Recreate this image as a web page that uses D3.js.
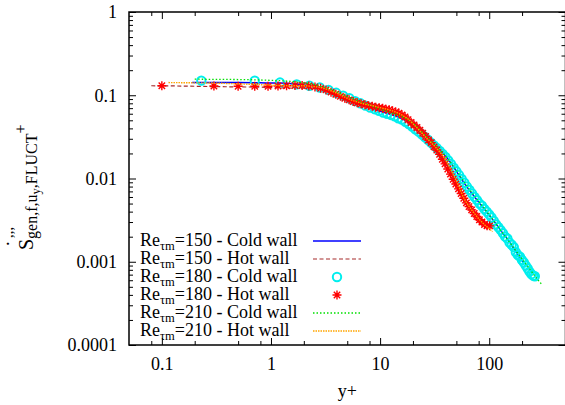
<!DOCTYPE html>
<html>
<head>
<meta charset="utf-8">
<script src="https://cdn.jsdelivr.net/npm/d3@7"></script>
<style>
  body { margin: 0; background: #fff; }
  svg { display: block; }
</style>
</head>
<body>
<svg></svg>
<script>
// ---- data ----
var xMajor = [0.1, 1, 10, 100],
    xMajorLabels = ["0.1", "1", "10", "100"],
    xMinor = [0.08, 0.2, 0.5, 0.8, 2, 5, 8, 20, 50, 80, 200],
    yMajor = [0.0001, 0.001, 0.01, 0.1, 1],
    yMajorLabels = ["0.0001", "0.001", "0.01", "0.1", "1"],
    yMinor = [];
[0.0001, 0.001, 0.01, 0.1].forEach(function(d) {
  [2, 3, 4, 5, 6, 7, 8, 9].forEach(function(m) { yMinor.push(d * m); });
});

var re150ColdX = [0.19, 0.3, 0.5, 0.8, 1.2, 1.6, 2, 2.5, 3, 3.5, 4, 5, 6, 7, 8.5, 10, 12, 14, 17, 20, 25, 30, 35, 40, 50, 60, 75, 90, 110, 130, 155, 180, 205],
    re150ColdY = [0.142, 0.142, 0.142, 0.141, 0.140, 0.137, 0.133, 0.127, 0.120, 0.112, 0.104, 0.091, 0.082, 0.075, 0.069, 0.064, 0.060, 0.056, 0.050, 0.043, 0.034, 0.027, 0.022, 0.0185, 0.0122, 0.0085, 0.0058, 0.0043, 0.0031, 0.0023, 0.0017, 0.00125, 0.00098];

var re150HotX = [0.08, 0.15, 0.3, 0.5, 0.8, 1.2, 1.6, 2, 2.5, 3, 3.5, 4, 5, 6, 7, 8.5, 10, 12, 14, 17, 20, 25, 30, 35, 40, 45, 50, 60, 70, 80, 92],
    re150HotY = [0.130, 0.129, 0.127, 0.126, 0.125, 0.123, 0.122, 0.122, 0.121, 0.117, 0.109, 0.102, 0.091, 0.084, 0.079, 0.074, 0.071, 0.067, 0.063, 0.056, 0.047, 0.036, 0.028, 0.021, 0.016, 0.0118, 0.0090, 0.0058, 0.0043, 0.0035, 0.0029];

var re180ColdX = [0.23, 0.71, 1.21, 1.72, 2.25, 2.80, 3.37, 3.96, 4.58, 5.23, 5.9, 6.6, 7.34, 8.11, 8.92, 9.77, 10.66, 11.6, 12.58, 13.61, 14.7, 15.84, 17.04, 18.3, 19.63, 21.03, 22.5, 24.05, 25.68, 27.4, 29.2, 31.1, 33.1, 35.2, 37.4, 39.7, 42.1, 44.6, 47.2, 50, 52.9, 55.9, 59.1, 62.4, 65.9, 69.5, 73.3, 77.3, 81.4, 85.7, 90.2, 94.9, 99.8, 104.9, 110.2, 115.7, 121.4, 127.4, 133.6, 140, 146.6, 153.5, 160.6, 167.9, 175.4, 183.2, 191.2, 199.4, 207.8, 216.4, 225.2, 234.2, 243.3, 252.5, 261.8],
    re180ColdY = [0.150, 0.150, 0.142, 0.135, 0.130, 0.124, 0.116, 0.107, 0.099, 0.092, 0.085, 0.080, 0.075, 0.071, 0.068, 0.065, 0.062, 0.060, 0.058, 0.056, 0.053, 0.051, 0.048, 0.045, 0.042, 0.039, 0.0365, 0.034, 0.0315, 0.0292, 0.027, 0.025, 0.0232, 0.0214, 0.0197, 0.0181, 0.0165, 0.0150, 0.0135, 0.0122, 0.0110, 0.0099, 0.0089, 0.0080, 0.0073, 0.0066, 0.0060, 0.0055, 0.0050, 0.0047, 0.0043, 0.0040, 0.0037, 0.0034, 0.0031, 0.0028, 0.0026, 0.0024, 0.0022, 0.0020, 0.0019, 0.0017, 0.0016, 0.0015, 0.0013, 0.0012, 0.00115, 0.00105, 0.00098, 0.00090, 0.00083, 0.00076, 0.00071, 0.00068, 0.00067];

var re180HotX = [0.1, 0.3, 0.5, 0.71, 0.94, 1.16, 1.39, 1.66, 1.93, 2.22, 2.53, 2.85, 3.19, 3.55, 3.93, 4.33, 4.75, 5.2, 5.67, 6.17, 6.7, 7.26, 7.85, 8.47, 9.13, 9.82, 10.55, 11.32, 12.13, 12.99, 13.9, 14.85, 15.86, 16.92, 18.04, 19.22, 20.46, 21.77, 23.15, 24.6, 26.13, 27.74, 29.44, 31.23, 33.11, 35.1, 37.19, 39.39, 41.71, 44.15, 46.72, 49.43, 52.28, 55.28, 58.44, 61.77, 65.27, 68.96, 72.84, 76.93, 81.23, 85.76, 90.53, 95.55, 100.8],
    re180HotY = [0.130, 0.129, 0.128, 0.128, 0.128, 0.129, 0.130, 0.131, 0.131, 0.129, 0.126, 0.121, 0.116, 0.109, 0.103, 0.097, 0.092, 0.088, 0.084, 0.081, 0.079, 0.077, 0.075, 0.074, 0.072, 0.071, 0.070, 0.068, 0.067, 0.065, 0.063, 0.061, 0.058, 0.055, 0.051, 0.047, 0.044, 0.041, 0.038, 0.035, 0.032, 0.029, 0.027, 0.024, 0.022, 0.0195, 0.017, 0.0150, 0.0130, 0.0113, 0.0098, 0.0086, 0.0075, 0.0066, 0.0058, 0.0051, 0.0046, 0.0042, 0.0038, 0.0035, 0.0032, 0.0030, 0.0028, 0.0027, 0.0027];

var re210ColdX = [0.2, 0.35, 0.6, 1, 1.5, 2, 2.5, 3, 3.5, 4, 5, 6, 7, 8.5, 10, 12, 15, 18, 22, 27, 32, 40, 50, 60, 75, 90, 110, 130, 160, 190, 230, 270, 305],
    re210ColdY = [0.156, 0.155, 0.154, 0.151, 0.147, 0.141, 0.134, 0.126, 0.118, 0.110, 0.097, 0.088, 0.081, 0.074, 0.068, 0.063, 0.057, 0.051, 0.041, 0.031, 0.025, 0.0185, 0.0125, 0.0088, 0.0059, 0.0044, 0.0031, 0.0023, 0.0016, 0.00118, 0.00085, 0.00064, 0.00053];

var re210HotX = [0.115, 0.2, 0.3, 0.5, 0.8, 1.2, 1.6, 2, 2.5, 3, 3.5, 4, 5, 6, 7, 8.5, 10, 12, 15, 18, 22, 27, 32, 40, 50, 60, 70, 80, 90, 100, 107],
    re210HotY = [0.142, 0.141, 0.140, 0.137, 0.134, 0.131, 0.130, 0.130, 0.127, 0.122, 0.114, 0.106, 0.092, 0.084, 0.079, 0.075, 0.071, 0.067, 0.060, 0.052, 0.040, 0.030, 0.024, 0.0165, 0.0093, 0.0055, 0.0041, 0.0033, 0.0028, 0.0025, 0.0023];

var legendRe = ["150", "150", "180", "180", "210", "210"],
    legendWall = ["Cold wall", "Hot wall", "Cold wall", "Hot wall", "Cold wall", "Hot wall"];

// ---- layout ----
var margin = {top: 12, left: 129},
    plotRight = 565.5,
    plotBottom = 345,
    serif = "Liberation Serif",
    svg = d3.select("svg").attr("width", 565).attr("height", 405).attr("font-family", serif),
    x = d3.scaleLog().domain([0.05, 500]).range([margin.left, plotRight]),
    y = d3.scaleLog().domain([0.0001, 1]).range([plotBottom, margin.top]),
    fontSize = 18;

function zip(xs, ys) { return xs.map(function(d, i) { return [d, ys[i]]; }); }

var series = [
  {data: zip(re150ColdX, re150ColdY), type: "line", color: "#0000ff", dash: null, width: 1.5},
  {data: zip(re150HotX, re150HotY), type: "line", color: "#a52a2a", dash: "4,2.5", width: 1.2},
  {data: zip(re180ColdX, re180ColdY), type: "circle", color: "#00eeee"},
  {data: zip(re180HotX, re180HotY), type: "star", color: "#ff0000"},
  {data: zip(re210ColdX, re210ColdY), type: "line", color: "#00e000", dash: "1.5,2", width: 1.3},
  {data: zip(re210HotX, re210HotY), type: "line", color: "#ffa500", dash: "1.5,1", width: 1.4}
];

var line = d3.line()
    .x(function(d) { return x(d[0]); })
    .y(function(d) { return y(d[1]); })
    .curve(d3.curveMonotoneX);

var starPath = "M-4.5,0L4.5,0M0,-4.5L0,4.5M-3.2,-3.2L3.2,3.2M-3.2,3.2L3.2,-3.2";

function drawMarker(g, s) {
  if (s.type === "circle") {
    g.append("circle").attr("r", 4.2)
      .attr("fill", "none").attr("stroke", s.color).attr("stroke-width", 2);
  } else {
    g.append("path").attr("d", starPath)
      .attr("fill", "none").attr("stroke", s.color).attr("stroke-width", 1.4);
  }
}

// ---- curves ----
var plot = svg.append("g");
series.forEach(function(s) {
  if (s.type === "line") {
    plot.append("path")
      .datum(s.data)
      .attr("d", line)
      .attr("fill", "none")
      .attr("stroke", s.color)
      .attr("stroke-width", s.width)
      .attr("stroke-dasharray", s.dash);
  } else {
    plot.append("g").selectAll("g")
      .data(s.data)
      .enter().append("g")
      .attr("transform", function(d) { return "translate(" + x(d[0]) + "," + y(d[1]) + ")"; })
      .each(function() { drawMarker(d3.select(this), s); });
  }
});

// ---- axes (ticks pointing inward on all four sides) ----
function styleAxis(g) {
  g.attr("font-family", serif);
  g.select(".domain").remove();
  g.selectAll("line").attr("stroke", "#000").attr("stroke-width", 1);
  g.selectAll("text").attr("font-family", serif).style("font-size", fontSize + "px").attr("fill", "#000");
}

svg.append("g").attr("transform", "translate(0," + plotBottom + ")")
  .call(d3.axisBottom(x).tickValues(xMajor).tickFormat(function(d, i) { return xMajorLabels[i]; })
    .tickSizeInner(-7).tickSizeOuter(0).tickPadding(12))
  .call(styleAxis);
svg.append("g").attr("transform", "translate(0," + plotBottom + ")")
  .call(d3.axisBottom(x).tickValues(xMinor).tickFormat("").tickSizeInner(-4).tickSizeOuter(0))
  .call(styleAxis);
svg.append("g").attr("transform", "translate(0," + margin.top + ")")
  .call(d3.axisTop(x).tickValues(xMajor).tickFormat("").tickSizeInner(-7).tickSizeOuter(0))
  .call(styleAxis);
svg.append("g").attr("transform", "translate(0," + margin.top + ")")
  .call(d3.axisTop(x).tickValues(xMinor).tickFormat("").tickSizeInner(-4).tickSizeOuter(0))
  .call(styleAxis);

svg.append("g").attr("transform", "translate(" + margin.left + ",0)")
  .call(d3.axisLeft(y).tickValues(yMajor).tickFormat(function(d, i) { return yMajorLabels[i]; })
    .tickSizeInner(-7).tickSizeOuter(0).tickPadding(12))
  .call(styleAxis);
svg.append("g").attr("transform", "translate(" + margin.left + ",0)")
  .call(d3.axisLeft(y).tickValues(yMinor).tickFormat("").tickSizeInner(-4).tickSizeOuter(0))
  .call(styleAxis);
svg.append("g").attr("transform", "translate(" + plotRight + ",0)")
  .call(d3.axisRight(y).tickValues(yMajor).tickFormat("").tickSizeInner(-7).tickSizeOuter(0))
  .call(styleAxis);
svg.append("g").attr("transform", "translate(" + plotRight + ",0)")
  .call(d3.axisRight(y).tickValues(yMinor).tickFormat("").tickSizeInner(-4).tickSizeOuter(0))
  .call(styleAxis);

svg.append("rect")
  .attr("x", margin.left).attr("y", margin.top)
  .attr("width", plotRight - margin.left).attr("height", plotBottom - margin.top)
  .attr("fill", "none").attr("stroke", "#000").attr("stroke-width", 1.5);

// ---- axis titles ----
svg.append("text")
  .attr("x", (margin.left + plotRight) / 2).attr("y", 397)
  .attr("text-anchor", "middle")
  .attr("font-family", serif)
  .style("font-size", fontSize + "px")
  .text("y+");

var yl = svg.append("g").attr("transform", "translate(33,250) rotate(-90)").attr("font-family", serif);
var ylt = yl.append("text").attr("x", 0).attr("y", 0).style("font-size", "20px");
ylt.append("tspan").text("S");
ylt.append("tspan").attr("dy", 4).style("font-size", "16px").text("gen,f,u");
ylt.append("tspan").attr("dy", 3).style("font-size", "12.5px").text("y");
ylt.append("tspan").attr("dy", -3).style("font-size", "16px").text(",FLUCT");
ylt.append("tspan").attr("dy", -11).style("font-size", "16px").text("+");
yl.append("text").attr("x", 3).attr("y", -12).style("font-size", "20px").text("˙");
yl.append("text").attr("x", 12).attr("y", -20).style("font-size", "15px").text(",,,");

// ---- legend ----
var legend = svg.append("g")
  .attr("font-family", serif)
  .selectAll("g")
  .data(series)
  .enter().append("g")
  .attr("transform", function(d, i) { return "translate(0," + (241 + i * 18) + ")"; });

var lt = legend.append("text").attr("x", 140).attr("y", 5).style("font-size", fontSize + "px");
lt.append("tspan").text("Re");
lt.append("tspan").attr("dy", 3.5).style("font-size", "12.5px").text("τm");
lt.append("tspan").attr("dy", -3.5).text(function(d, i) { return "=" + legendRe[i] + " - " + legendWall[i]; });

legend.each(function(s) {
  var g = d3.select(this);
  if (s.type === "line") {
    g.append("line").attr("x1", 313).attr("x2", 361).attr("y1", 0).attr("y2", 0)
      .attr("stroke", s.color).attr("stroke-width", s.width).attr("stroke-dasharray", s.dash);
  } else {
    drawMarker(g.append("g").attr("transform", "translate(337,0)"), s);
  }
});
</script>
</body>
</html>
